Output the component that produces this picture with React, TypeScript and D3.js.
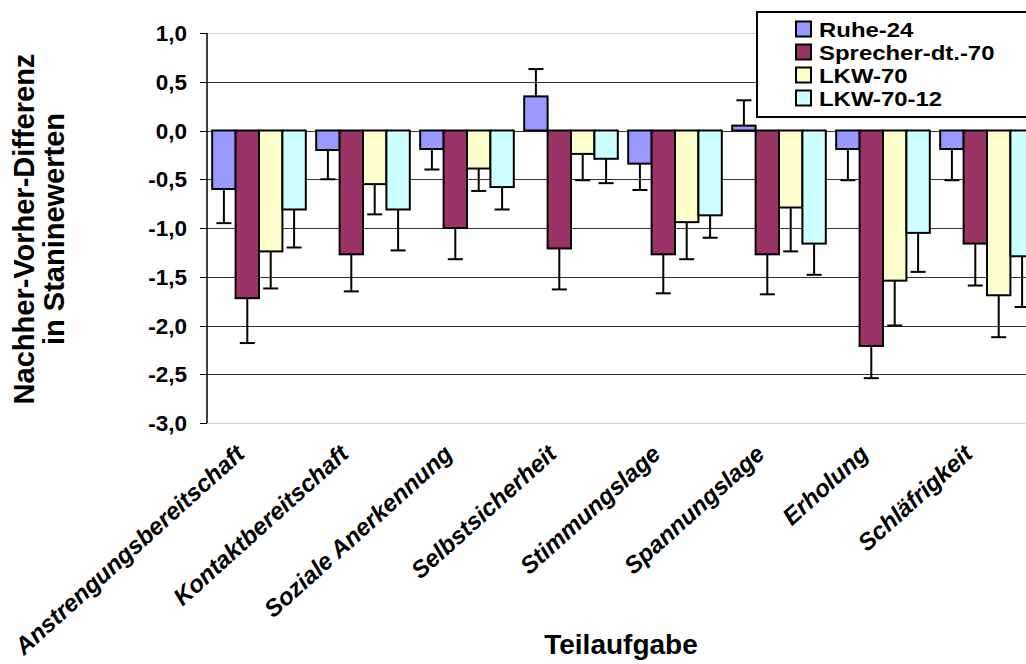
import React, { useMemo } from 'react';
import { scaleBand, scaleLinear, range } from 'd3';

const categories = [
  'Anstrengungsbereitschaft',
  'Kontaktbereitschaft',
  'Soziale Anerkennung',
  'Selbstsicherheit',
  'Stimmungslage',
  'Spannungslage',
  'Erholung',
  'Schläfrigkeit',
];
const seriesNames = ['Ruhe-24', 'Sprecher-dt.-70', 'LKW-70', 'LKW-70-12'];
const seriesColors = ['#9999ff', '#993366', '#ffffcc', '#ccffff'];

const ruhe = [-0.6, -0.2, -0.19, 0.35, -0.34, 0.05, -0.19, -0.19];
const ruheErr = [0.35, 0.3, 0.21, 0.28, 0.27, 0.26, 0.32, 0.32];
const sprecher = [-1.72, -1.27, -1.0, -1.21, -1.27, -1.27, -2.21, -1.16];
const sprecherErr = [0.46, 0.38, 0.32, 0.42, 0.4, 0.41, 0.33, 0.43];
const lkw70 = [-1.24, -0.55, -0.39, -0.24, -0.94, -0.79, -1.54, -1.69];
const lkw70Err = [0.38, 0.31, 0.23, 0.27, 0.38, 0.45, 0.46, 0.43];
const lkw7012 = [-0.81, -0.81, -0.58, -0.29, -0.87, -1.16, -1.05, -1.29];
const lkw7012Err = [0.39, 0.42, 0.23, 0.25, 0.23, 0.32, 0.4, 0.52];

const yTicks = [1, 0.5, 0, -0.5, -1, -1.5, -2, -2.5, -3];
const fmt = (v: number) => v.toFixed(1).replace('.', ',');

const FONT = '"Liberation Sans", Arial, sans-serif';
const W = 1026;
const H = 664;

export default function App() {
  const values = [ruhe, sprecher, lkw70, lkw7012];
  const errors = [ruheErr, sprecherErr, lkw70Err, lkw7012Err];

  const x = useMemo(
    () => scaleBand<string>().domain(categories).range([207, 1039]).paddingInner(0.1).paddingOuter(0.05),
    [],
  );
  const xs = useMemo(
    () => scaleBand<string>().domain(seriesNames).range([0, x.bandwidth()]),
    [x],
  );
  const y = useMemo(() => scaleLinear().domain([-3, 1]).range([423, 33]), []);
  const capW = 15;

  return (
    <svg width={W} height={H} style={{ position: 'absolute', left: 0, top: 0, background: '#fff' }} fontFamily={FONT}>
      {/* gridlines */}
      {yTicks.map((t) => {
        const edge = t === 1 || t === -3;
        return (
          <line
            key={t}
            x1={207}
            x2={W}
            y1={Math.round(y(t)) + 0.5}
            y2={Math.round(y(t)) + 0.5}
            stroke={edge ? '#d0d0d0' : '#333'}
            strokeWidth={1}
          />
        );
      })}

      {/* bars */}
      {categories.map((c, ci) => (
        <g key={c} transform={`translate(${x(c)},0)`}>
          {seriesNames.map((s, si) => {
            const v = values[si][ci];
            const e = errors[si][ci];
            const bx = xs(s)!;
            const bw = xs.bandwidth();
            const y0 = y(0);
            const y1 = y(v);
            const yErr = y(v + (v >= 0 ? e : -e));
            const cx = bx + bw / 2;
            return (
              <g key={s}>
                <line x1={cx} x2={cx} y1={y1} y2={yErr} stroke="#000" strokeWidth={2} />
                <line x1={cx - capW / 2} x2={cx + capW / 2} y1={yErr} y2={yErr} stroke="#000" strokeWidth={2} />
                <rect
                  x={bx}
                  y={Math.min(y0, y1)}
                  width={bw}
                  height={Math.abs(y1 - y0)}
                  fill={seriesColors[si]}
                  stroke="#000"
                  strokeWidth={2}
                />
              </g>
            );
          })}
        </g>
      ))}

      {/* y axis */}
      <line x1={207} x2={207} y1={y(1)} y2={y(-3)} stroke="#000" strokeWidth={1.5} />
      {yTicks.map((t) => (
        <g key={t} transform={`translate(0,${Math.round(y(t)) + 0.5})`}>
          <line x1={200} x2={207} stroke="#000" strokeWidth={1} />
          <text x={187} dy="0.35em" textAnchor="end" fontSize={22.5} fontWeight="bold">
            {fmt(t)}
          </text>
        </g>
      ))}

      {/* category labels */}
      {categories.map((c) => (
        <text
          key={c}
          transform={`translate(${x(c)! + x.bandwidth() / 2 - 13},${456}) rotate(-42)`}
          textAnchor="end"
          fontSize={24}
          fontWeight="bold"
          fontStyle="italic"
        >
          {c}
        </text>
      ))}

      {/* axis titles */}
      <text x={621} y={654} textAnchor="middle" fontSize={28} fontWeight="bold">
        Teilaufgabe
      </text>
      <g transform="translate(0,229) rotate(-90)">
        <text x={0} y={34} textAnchor="middle" fontSize={29} fontWeight="bold">
          Nachher-Vorher-Differenz
        </text>
        <text x={0} y={64} textAnchor="middle" fontSize={29} fontWeight="bold">
          in Staninewerten
        </text>
      </g>

      {/* legend */}
      <g>
        <rect x={757} y={12} width={W} height={105} fill="#fff" stroke="#000" strokeWidth={2} />
        {range(seriesNames.length).map((i) => (
          <g key={i} transform={`translate(796,${29 + i * 23})`}>
            <rect x={0} y={-7.5} width={15} height={15} fill={seriesColors[i]} stroke="#000" strokeWidth={2} />
            <text transform="translate(23,0) scale(1.14,1)" dy="0.36em" fontSize={21} fontWeight="bold">
              {seriesNames[i]}
            </text>
          </g>
        ))}
      </g>
    </svg>
  );
}
